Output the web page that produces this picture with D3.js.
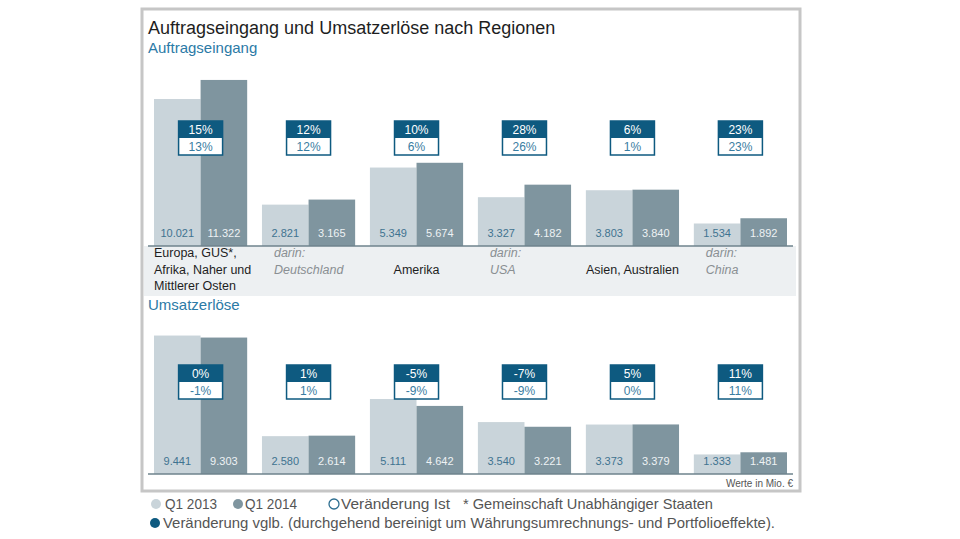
<!DOCTYPE html>
<html>
<head>
<meta charset="utf-8">
<script src="https://cdn.jsdelivr.net/npm/d3@7"></script>
<style>
  body { margin: 0; background: #fff; }
  text { font-family: "Liberation Sans", Arial, sans-serif; }
</style>
</head>
<body>
<svg id="chart" width="960" height="539"></svg>
<script>
// region labels (lines), "darin" rows are sub-regions
const regions = [
    ["Europa, GUS*,", "Afrika, Naher und", "Mittlerer Osten"],
    ["darin:", "Deutschland"],
    ["Amerika"],
    ["darin:", "USA"],
    ["Asien, Australien"],
    ["darin:", "China"]
];
const isSub = [false, true, false, true, false, true];

const orders2013 = [10021, 2821, 5349, 3327, 3803, 1534];
const orders2014 = [11322, 3165, 5674, 4182, 3840, 1892];
const ordersCompChange = [15, 12, 10, 28, 6, 23];
const ordersActChange = [13, 12, 6, 26, 1, 23];

const sales2013 = [9441, 2580, 5111, 3540, 3373, 1333];
const sales2014 = [9303, 2614, 4642, 3221, 3379, 1481];
const salesCompChange = [0, 1, -5, -7, 5, 11];
const salesActChange = [-1, 1, -9, -9, 0, 11];

const years = ["Q1 2013", "Q1 2014"];

const colLight = "#c9d4da";
const colDark = "#7f959f";
const colBlue = "#0e5a80";
const colBlueText = "#3a7da2";

const de = d3.formatLocale({ decimal: ",", thousands: ".", grouping: [3], currency: ["", " €"] });
const fmt = de.format(",d");
const pct = v => `${v}%`;

const svg = d3.select("#chart");

// frame
svg.append("rect")
    .attr("x", 142).attr("y", 9).attr("width", 658).attr("height", 482)
    .attr("fill", "#fff").attr("stroke", "#c6c6c6").attr("stroke-width", 3);

// title
svg.append("text").attr("x", 148).attr("y", 34)
    .attr("font-size", 18).attr("fill", "#1e1e1e")
    .text("Auftragseingang und Umsatzerlöse nach Regionen");

const x = d3.scaleBand().domain(d3.range(regions.length))
    .range([154, 787]).paddingInner(0.137).paddingOuter(0);
const xSub = d3.scaleBand().domain(years).range([0, x.bandwidth()]);

// grey band under the orders chart with region labels
svg.append("rect").attr("x", 144).attr("y", 246).attr("width", 652).attr("height", 50)
    .attr("fill", "#edf0f2");

const labels = svg.append("g");
regions.forEach((lines, i) => {
    const sub = isSub[i];
    const t = labels.append("text")
        .attr("font-size", 12.5)
        .attr("fill", sub ? "#8a8f93" : "#1e1e1e")
        .attr("font-style", sub ? "italic" : "normal");
    let anchor, xPos;
    if (sub) { anchor = "start"; xPos = x(i) + 12; }
    else if (lines.length > 1) { anchor = "start"; xPos = x(i); }
    else { anchor = "middle"; xPos = x(i) + x.bandwidth() / 2; }
    const y0 = lines.length === 1 ? 274 : 257;
    t.attr("text-anchor", anchor);
    lines.forEach((ln, k) => {
        t.append("tspan").attr("x", xPos).attr("y", y0 + k * 16.5).text(ln);
    });
});

function drawPanel(opts) {
    const { title, titleY, base, v13, v14, comp, act, boxY } = opts;
    const y = d3.scaleLinear().domain([0, 12000]).range([base, base - 176]);

    svg.append("text").attr("x", 148).attr("y", titleY)
        .attr("font-size", 15).attr("fill", "#2b7aa6").text(title);

    const g = svg.append("g");
    const rows = d3.range(regions.length).map(i => ({ i, vals: [v13[i], v14[i]] }));

    const grp = g.selectAll("g.grp").data(rows).enter().append("g")
        .attr("class", "grp")
        .attr("transform", d => `translate(${x(d.i)},0)`);

    grp.selectAll("rect").data(d => d.vals.map((v, k) => ({ v, k })))
        .enter().append("rect")
        .attr("x", d => xSub(years[d.k]))
        .attr("y", d => y(d.v))
        .attr("width", xSub.bandwidth())
        .attr("height", d => base - y(d.v))
        .attr("fill", d => d.k === 0 ? colLight : colDark);

    grp.selectAll("text.val").data(d => d.vals.map((v, k) => ({ v, k })))
        .enter().append("text")
        .attr("class", "val")
        .attr("x", d => xSub(years[d.k]) + xSub.bandwidth() / 2)
        .attr("y", base - 9)
        .attr("text-anchor", "middle")
        .attr("font-size", 11)
        .attr("fill", d => d.k === 0 ? "#3f7390" : "#eef2f4")
        .text(d => fmt(d.v));

    // change boxes
    const bw = 44, bh = 17;
    const box = grp.append("g")
        .attr("transform", `translate(${x.bandwidth() / 2 - bw / 2},${boxY})`);
    box.append("rect").attr("width", bw).attr("height", bh * 2)
        .attr("fill", "#fff").attr("stroke", colBlue).attr("stroke-width", 1.5);
    box.append("rect").attr("width", bw).attr("height", bh).attr("fill", colBlue);
    box.append("text").attr("x", bw / 2).attr("y", bh - 4.5)
        .attr("text-anchor", "middle").attr("font-size", 12).attr("fill", "#fff")
        .text(d => pct(comp[d.i]));
    box.append("text").attr("x", bw / 2).attr("y", bh * 2 - 4.5)
        .attr("text-anchor", "middle").attr("font-size", 12).attr("fill", colBlueText)
        .text(d => pct(act[d.i]));

    // baseline
    svg.append("line").attr("x1", 148).attr("x2", 793)
        .attr("y1", base).attr("y2", base)
        .attr("stroke", "#6e838d").attr("stroke-width", 1.5);
}

drawPanel({
    title: "Auftragseingang", titleY: 53, base: 246,
    v13: orders2013, v14: orders2014, comp: ordersCompChange, act: ordersActChange, boxY: 121
});
drawPanel({
    title: "Umsatzerlöse", titleY: 310, base: 474,
    v13: sales2013, v14: sales2014, comp: salesCompChange, act: salesActChange, boxY: 365
});

svg.append("text").attr("x", 793).attr("y", 487)
    .attr("text-anchor", "end").attr("font-size", 10).attr("fill", "#555")
    .text("Werte in Mio. €");

// legend (condensed look via textLength)
const legend = svg.append("g");
const legendItems = [
    { cx: 156, cy: 504, fill: colLight, stroke: "none", label: "Q1 2013", tx: 165, w: 52 },
    { cx: 238, cy: 504, fill: colDark, stroke: "none", label: "Q1 2014", tx: 245, w: 52 },
    { cx: 334, cy: 504, fill: "#fff", stroke: "#2d6e90", label: "Veränderung Ist", tx: 341, w: 109 },
    { cx: null, cy: 504, label: "* Gemeinschaft Unabhängiger Staaten", tx: 463, w: 250 },
    { cx: 155, cy: 523, fill: colBlue, stroke: "none", label: "Veränderung vglb. (durchgehend bereinigt um Währungsumrechnungs- und Portfolioeffekte).", tx: 163, w: 612 }
];
legendItems.forEach(it => {
    if (it.cx !== null) {
        legend.append("circle").attr("cx", it.cx).attr("cy", it.cy).attr("r", 5)
            .attr("fill", it.fill).attr("stroke", it.stroke).attr("stroke-width", 1.3);
    }
    legend.append("text")
        .attr("x", it.tx).attr("y", it.cy + 5)
        .attr("font-size", 14.5).attr("fill", "#555")
        .attr("textLength", it.w).attr("lengthAdjust", "spacingAndGlyphs")
        .text(it.label);
});
</script>
</body>
</html>
